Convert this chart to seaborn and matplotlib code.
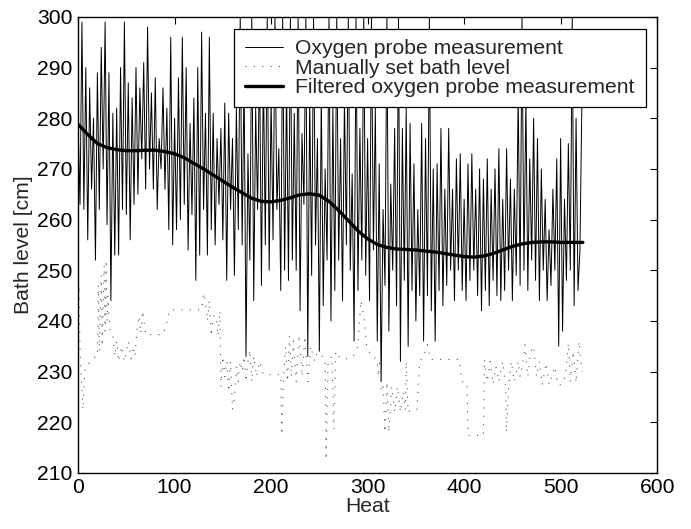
import numpy as np
import pandas as pd
import seaborn as sns
import matplotlib
matplotlib.use("Agg")
from matplotlib import pyplot as plt

probe_heat = list(range(0, 524, 2))
probe_level = [
    279, 263, 299, 262, 290, 256, 286, 266, 280, 252,
    289, 262, 294, 270, 299, 259, 289, 244, 281, 253,
    282, 253, 290, 262, 299, 261, 287, 256, 284, 263,
    290, 265, 286, 272, 291, 266, 298, 270, 285, 266,
    288, 262, 276, 270, 286, 266, 282, 258, 296, 255,
    280, 258, 288, 260, 296, 263, 290, 254, 279, 261,
    284, 248, 290, 253, 297, 262, 281, 253, 296, 258,
    281, 255, 276, 263, 278, 256, 283, 248, 281, 262,
    276, 249, 282, 258, 300, 255, 289, 233, 273, 252,
    300, 244, 282, 262, 293, 247, 290, 255, 300, 250,
    284, 256, 300, 262, 274, 246, 300, 250, 287, 248,
    300, 252, 281, 250, 300, 242, 277, 263, 300, 233,
    284, 249, 300, 255, 276, 234, 285, 243, 270, 252,
    300, 240, 282, 246, 300, 252, 276, 244, 284, 255,
    300, 250, 269, 236, 300, 246, 278, 252, 300, 249,
    276, 244, 300, 254, 282, 236, 271, 228, 262, 247,
    300, 238, 267, 250, 278, 243, 300, 232, 278, 248,
    282, 235, 279, 246, 271, 240, 262, 245, 279, 236,
    276, 245, 300, 242, 270, 236, 271, 246, 278, 243,
    266, 247, 278, 250, 266, 244, 272, 250, 273, 246,
    264, 244, 271, 248, 273, 250, 266, 245, 270, 242,
    268, 246, 272, 243, 266, 248, 270, 245, 274, 244,
    264, 246, 274, 250, 268, 244, 266, 249, 285, 247,
    300, 250, 284, 246, 272, 252, 280, 248, 276, 244,
    270, 250, 264, 244, 258, 247, 266, 250, 272, 235,
    276, 238, 264, 248, 275, 250, 300, 243, 280, 246,
    254, 283,
]

# Manually set bath level (breakpoints)
manual_heat = [
    0, 1, 2, 3, 5, 7, 8, 18, 20, 21, 22, 24, 25, 27, 28, 29, 30, 31, 33, 36,
    38, 40, 42, 45, 48, 52, 55, 57, 59, 61, 63, 65, 67, 70, 88, 91, 95, 128, 130, 132,
    134, 136, 138, 140, 143, 145, 147, 148, 150, 152, 154, 156, 158, 160, 162, 164, 166, 168, 170, 172,
    174, 176, 178, 180, 182, 185, 188, 192, 210, 211, 213, 215, 217, 219, 221, 223, 226, 229, 232, 235,
    238, 241, 245, 249, 253, 256, 257, 259, 263, 265, 267, 270, 276, 285, 290, 293, 296, 299, 304, 310,
    311, 313, 314, 316, 318, 320, 322, 325, 328, 331, 334, 337, 339, 340, 342, 345, 351, 354, 358, 362,
    365, 395, 398, 403, 404, 420, 421, 424, 427, 430, 433, 436, 440, 443, 444, 446, 449, 452, 456, 458,
    461, 463, 466, 469, 472, 475, 478, 481, 485, 488, 494, 497, 501, 505, 508, 510, 513, 516, 519, 522,
]
manual_level = [
    243, 247, 234, 230, 222.5, 230, 231, 233, 233, 247, 234, 249, 235, 251, 238, 252, 240, 245, 238, 237,
    233, 236, 232, 235, 232, 236, 232.5, 235, 233, 238, 241, 237.5, 242, 237.3, 237.3, 239, 242.2, 242.2, 245.5, 244,
    240, 244, 237, 241, 241, 237, 242, 227, 233, 229, 232, 226, 232, 222.5, 225, 231, 228, 232, 230, 233,
    228, 232, 234.3, 228, 233, 229, 232, 229.4, 229.4, 217.5, 229, 235, 228, 237, 229, 236, 228, 237.3, 229, 237,
    228, 235, 232, 234.7, 233, 232.5, 212.6, 232, 233, 218.6, 234, 233, 232.4, 233, 235, 244, 241, 235, 233, 232.4,
    229, 232.4, 226, 227, 218, 228, 218, 227, 222, 227, 222, 226, 222.5, 232, 222, 222.5, 222.5, 232, 233, 235.3,
    232.4, 232.4, 228, 227.8, 217.4, 217.4, 232.4, 228, 232, 227.5, 231, 228, 232, 227, 218, 227, 232, 228, 232, 229,
    232, 235.3, 229, 234, 235, 229, 232, 227.4, 231.7, 227.4, 231, 227.4, 227.4, 229, 235.6, 228, 234, 227.8, 236, 230,
]

# Filtered oxygen probe measurement, every 10 heats
filt_heat = list(range(0, 530, 10)) + [523]
filt_level = [
    278.8, 276.8, 275.0, 274.2, 273.8, 273.6, 273.6, 273.7, 273.7, 273.4,
    273.0, 272.2, 271.1, 270.0, 268.8, 267.6, 266.4, 265.3, 264.2, 263.6,
    263.5, 263.8, 264.3, 264.9, 265.1, 264.8, 263.6, 261.8, 259.8, 257.8,
    256.2, 255.1, 254.5, 254.2, 254.1, 254.0, 253.8, 253.6, 253.3, 253.0,
    252.7, 252.6, 252.8, 253.3, 254.0, 254.7, 255.2, 255.5, 255.6, 255.6,
    255.5, 255.5, 255.5, 255.5,
]

sns.set_theme(style="white")
plt.rcParams["font.family"] = ["Liberation Sans", "DejaVu Sans"]
plt.rcParams.update({
    "xtick.direction": "in", "ytick.direction": "in",
    "xtick.top": True, "ytick.right": True,
    "xtick.major.size": 5, "ytick.major.size": 5,
    "xtick.major.width": 0.8, "ytick.major.width": 0.8,
    "axes.edgecolor": "black", "axes.linewidth": 1.0,
})

probe = pd.DataFrame({"Heat": probe_heat, "level": probe_level})
manual = pd.DataFrame({"Heat": manual_heat, "level": manual_level})
filt = pd.DataFrame({"Heat": filt_heat, "level": filt_level})

fs = 15.2
fig = plt.figure(figsize=(6.91, 5.29), dpi=100)
ax = fig.add_axes([0.113, 0.106, 0.838, 0.862])

sns.lineplot(data=probe, x="Heat", y="level", estimator=None, sort=False,
             color="black", lw=0.7, ax=ax, label="Oxygen probe measurement")
sns.lineplot(data=manual, x="Heat", y="level", estimator=None, sort=False,
             color="0.35", lw=0.8, ax=ax, label="Manually set bath level")
ax.lines[-1].set_dashes((1, 6.5))
sns.lineplot(data=filt, x="Heat", y="level", estimator=None, sort=False,
             color="black", lw=2.4, ax=ax, label="Filtered oxygen probe measurement")

ax.set_xlim(0, 600)
ax.set_ylim(210, 300)
ax.set_xticks(range(0, 601, 100))
ax.set_yticks(range(210, 301, 10))
ax.tick_params(labelsize=fs, colors="black", pad=4)
ax.set_xlabel("Heat", fontsize=fs, labelpad=0)
ax.set_ylabel("Bath level [cm]", fontsize=fs, labelpad=3)

leg = ax.legend(loc="upper right", fontsize=fs, frameon=True, fancybox=False,
                edgecolor="black", framealpha=1, borderaxespad=0.55,
                handlelength=1.8, handletextpad=0.6, labelspacing=0.02,
                borderpad=0.5)
leg.get_frame().set_linewidth(0.9)

fig.savefig("out.png", dpi=100)
